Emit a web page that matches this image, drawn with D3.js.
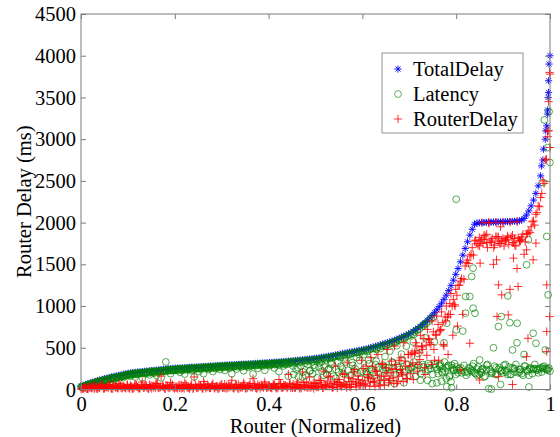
<!DOCTYPE html>
<html>
<head>
<meta charset="utf-8">
<script src="https://cdn.jsdelivr.net/npm/d3@7"></script>
<style>
  body { margin: 0; background: #fff; }
  text { font-family: "Liberation Serif", "Times New Roman", serif; fill: #000; }
</style>
</head>
<body>
<div id="container"></div>
<script>
/* CONSTANTS AND GLOBALS */
const width = 560,
  height = 437,
  plot = { left: 81, right: 550, top: 14, bottom: 389.5 },
  fontSize = "20.5px";

// series, one value per router (sorted by total delay), x = i / 199
const totalDelay = [
  40, 50, 60, 70, 79, 88, 97, 106, 114, 122, 130, 137, 144, 151, 158, 164, 170, 176, 182, 188,
  195, 198, 202, 205, 209, 212, 215, 218, 221, 224, 227, 230, 233, 236, 239, 242, 245, 248, 250, 253,
  255, 257, 258, 260, 262, 263, 265, 267, 268, 270, 272, 274, 275, 277, 279, 281, 282, 284, 286, 288,
  290, 292, 293, 295, 296, 298, 299, 301, 302, 304, 305, 307, 308, 310, 312, 314, 315, 317, 319, 320,
  322, 324, 326, 328, 330, 333, 335, 337, 340, 342, 345, 348, 350, 353, 356, 359, 362, 365, 368, 371,
  375, 379, 384, 388, 393, 398, 403, 408, 413, 419, 425, 430, 436, 441, 447, 452, 458, 463, 469, 474,
  480, 487, 494, 502, 510, 518, 526, 535, 544, 552, 560, 570, 580, 591, 602, 614, 626, 639, 652, 666,
  680, 698, 717, 737, 758, 780, 804, 830, 858, 888, 920, 955, 993, 1034, 1080, 1130, 1185, 1245, 1310, 1380,
  1450, 1530, 1610, 1690, 1770, 1850, 1920, 1980, 1995, 1998, 2000, 2001, 2003, 2004, 2005, 2006, 2007, 2008, 2009, 2010,
  2011, 2012, 2013, 2014, 2016, 2018, 2022, 2030, 2050, 2090, 2140, 2200, 2270, 2350, 2440, 2560, 2750, 3000, 3350, 4000
];

const latency = [
  35, 38, 40, 62, 49, 73, 57, 96, 89, 67, 112, 102, 84, 139, 113, 136, 100, 156, 144, 173,
  180, 160, 195, 150, 185, 200, 140, 190, 205, 175, 218, 195, 170, 215, 140, 220, 330, 235, 190, 230,
  230, 245, 205, 240, 185, 240, 255, 225, 150, 255, 215, 250, 190, 262, 240, 260, 215, 250, 275, 240,
  270, 230, 280, 255, 190, 275, 245, 290, 270, 225, 290, 265, 282, 185, 292, 255, 302, 280, 230, 298,
  285, 310, 258, 300, 215, 315, 282, 302, 160, 325, 282, 325, 262, 325, 150, 315, 342, 220, 332, 292,
  345, 270, 330, 170, 355, 240, 330, 385, 135, 330, 382, 245, 378, 125, 414, 322, 220, 385, 420, 130,
  420, 210, 355, 125, 420, 300, 110, 490, 245, 395, 85, 460, 330, 70, 525, 265, 425, 80, 520, 245,
  260, 570, 160, 430, 110, 300, 620, 110, 290, 70, 570, 80, 290, 100, 560, 130, 290, 95, 230, 180,
  200, 230, 700, 210, 220, 250, 220, 200, 245, 180, 200, 150, 240, 10, 215, 500, 180, 240, 60, 200,
  230, 180, 800, 260, 210, 560, 240, 190, 420, 230, 240, 250, 250, 250, 240, 260, 250, 250, 250, 220
];

const routerDelay = [
  5, 12, 20, 8, 30, 15, 40, 10, 25, 55, 18, 35, 60, 12, 45, 28, 70, 20, 38, 15,
  22, 48, 10, 65, 30, 15, 90, 35, 20, 58, 12, 40, 75, 25, 160, 30, 50, 18, 85, 28,
  30, 12, 55, 20, 80, 25, 10, 45, 150, 18, 60, 28, 95, 15, 40, 22, 70, 35, 12, 50,
  20, 65, 15, 40, 110, 25, 55, 12, 35, 80, 18, 45, 28, 130, 22, 60, 15, 38, 90, 25,
  40, 15, 70, 28, 120, 20, 55, 35, 180, 18, 65, 25, 90, 30, 210, 45, 22, 150, 38, 80,
  30, 110, 55, 220, 40, 160, 75, 25, 280, 90, 45, 190, 60, 320, 35, 130, 240, 80, 50, 350,
  60, 280, 140, 380, 90, 220, 420, 45, 300, 160, 480, 110, 250, 520, 75, 350, 200, 560, 130, 420,
  420, 120, 560, 300, 650, 480, 180, 720, 560, 820, 350, 880, 700, 930, 520, 1000, 900, 1150, 1080, 1200,
  1250, 1300, 900, 1480, 1550, 1600, 1700, 1780, 1750, 1820, 1800, 1850, 1760, 2000, 1790, 1500, 1830, 1770, 1950, 1810,
  1790, 1840, 1200, 1760, 1810, 1450, 1780, 1830, 1620, 1860, 1900, 1950, 2020, 2100, 2200, 2300, 2500, 2750, 3100, 3780
];

// routers in between the ones above, x = (i + 0.5) / 199
const latencyBand = [
  30, 45, 52, 60, 72, 80, 90, 98, 105, 112, 120, 126, 132, 140, 146, 152, 158, 165, 170, 176,
  182, 188, 190, 195, 198, 200, 205, 208, 210, 214, 216, 220, 222, 226, 228, 232, 234, 238, 240, 242,
  244, 246, 248, 250, 250, 254, 256, 258, 258, 262, 262, 266, 266, 268, 270, 272, 274, 276, 278, 280,
  280, 282, 284, 286, 286, 288, 290, 292, 294, 294, 296, 298, 300, 300, 302, 304, 306, 308, 310, 310,
  312, 314, 316, 318, 320, 322, 325, 326, 330, 332, 334, 336, 340, 342, 345, 348, 350, 354, 356, 360,
  362, 366, 372, 375, 380, 384, 390, 394, 400, 405, 410, 415, 420, 426, 432, 438, 442, 448, 455, 460,
  466, 472, 480, 488, 495, 502, 510, 520, 528, 536, 545, 555, 565, 576, 588, 600, 612, 624, 638, 652,
  660, 690, 710, 720, 750, 780, 790, 820, 850, 870, 270, 190, 300, 250, 220, 280, 170, 260, 310, 230,
  250, 200, 290, 170, 260, 230, 310, 190, 270, 220, 250, 160, 300, 240, 200, 280, 180, 260, 230, 290,
  210, 270, 180, 250, 300, 200, 240, 170, 280, 220, 260, 190, 300, 230, 250, 210, 280, 240, 260
];
const routerBand = [
  10, 25, 8, 35, 18, 42, 12, 28, 50, 15, 32, 20, 45, 10, 38, 22, 55, 14, 30, 48,
  12, 36, 20, 52, 15, 40, 25, 60, 10, 30, 45, 18, 70, 22, 35, 12, 50, 28, 40, 16,
  25, 48, 14, 38, 60, 20, 32, 10, 55, 26, 42, 15, 65, 30, 18, 50, 24, 36, 12, 45,
  28, 15, 52, 35, 20, 62, 12, 40, 25, 58, 18, 45, 30, 70, 14, 38, 55, 22, 48, 32,
  20, 55, 35, 15, 65, 28, 48, 18, 75, 38, 25, 60, 42, 15, 85, 32, 50, 22, 70, 40,
  30, 80, 18, 55, 100, 40, 25, 90, 60, 120, 35, 75, 50, 140, 28, 95, 65, 160, 45, 110,
  70, 180, 40, 130, 90, 220, 55, 160, 110, 260, 80, 200, 140, 300, 100, 240, 180, 340, 130, 280,
  440, 430, 520, 440, 510, 610, 530, 610, 540, 690, 660, 780, 710, 800, 870, 870, 1030, 1000, 1020, 1130,
  1250, 1330, 1320, 1520, 1510, 1620, 1610, 1790, 1730, 1780, 1750, 1840, 1700, 1770, 1810, 1730, 1830, 1750, 1780, 1720,
  1800, 1740, 1830, 1760, 1720, 1820, 1780, 1860, 1770, 1870, 1880, 2010, 1970, 2120, 2190, 2350, 2470, 2760, 3100
];

// more routers over the lower 80% of the range
// latency at x = (i + 0.25) / 199
const latencyMid = [
  25, 35, 45, 50, 60, 70, 78, 85, 95, 100, 110, 115, 122, 130, 135, 142, 148, 155, 160, 165,
  170, 175, 180, 182, 186, 190, 192, 196, 198, 200, 204, 206, 210, 212, 215, 218, 220, 224, 226, 228,
  230, 228, 236, 232, 240, 236, 244, 240, 246, 250, 246, 252, 250, 256, 254, 260, 258, 262, 260, 266,
  264, 270, 266, 274, 270, 276, 272, 280, 276, 282, 280, 286, 282, 290, 286, 292, 290, 296, 292, 298,
  296, 300, 298, 304, 300, 308, 304, 312, 308, 316,
  180, 240, 150, 280, 210, 170, 300, 230, 190, 260, 140, 320, 220, 270, 180, 250, 300, 160, 240, 210,
  280, 190, 330, 230, 170, 290, 250, 200, 350, 220, 260, 180, 310, 240, 200, 340, 270, 150, 290, 230,
  260, 200, 320, 180, 280, 240, 350, 210, 300, 170, 260, 330, 230, 290, 190, 270, 220, 310, 250, 180,
  300, 240, 280, 200, 330, 260, 150, 290, 230, 270
];
// router delay at x = (i + 0.75) / 199
const routerMid = [
  15, 30, 8, 22, 45, 12, 35, 20, 50, 10, 28, 40, 15, 55, 25, 12, 42, 30, 18, 60,
  25, 10, 45, 32, 15, 55, 20, 38, 12, 48, 28, 65, 18, 35, 50, 10, 40, 24, 58, 14,
  36, 20, 52, 12, 44, 28, 62, 16, 38, 24, 50, 10, 34, 58, 22, 46, 14, 40, 30, 66,
  18, 42, 26, 55, 12, 36, 60, 22, 48, 14, 38, 70, 26, 50, 16, 44, 32, 64, 20, 52,
  28, 56, 16, 40, 72, 24, 48, 34, 62, 20,
  20, 45, 15, 60, 30, 90, 25, 50, 12, 70, 35, 110, 20, 55, 40, 150, 28, 65, 18, 85,
  40, 180, 22, 95, 60, 210, 30, 120, 75, 250, 45, 150, 90, 280, 35, 170, 110, 310, 55, 200,
  130, 340, 70, 240, 160, 380, 95, 280, 420, 190, 320, 460, 220, 360, 520, 260, 410, 600, 300, 480,
  650, 350, 720, 540, 820, 420, 900, 650, 1000, 760
];

// extra markers that sit off the main sequence (x normalized, value ms)
const totalExtraX = [0.982, 0.986, 0.991, 0.993, 0.995, 0.996, 0.997, 0.997, 0.998];
const totalExtraY = [2680, 2880, 3100, 3160, 3300, 3500, 3560, 3700, 3900];

const latencyExtraX = [
  0.80, 0.954, 0.993, 0.95, 0.836, 0.833, 0.829, 0.836, 0.91, 0.996, 0.896, 0.84, 0.89, 0.93, 0.964, 0.97,
  0.99, 0.85, 0.92, 0.82, 0.82, 0.80, 0.78, 0.78, 0.79, 0.875, 0.955,
  0.81, 0.825, 0.835, 0.845, 0.855, 0.865, 0.875, 0.885, 0.895, 0.905, 0.915, 0.925, 0.935, 0.945,
  0.955, 0.965, 0.975, 0.985, 0.995, 0.62, 0.65, 0.68, 0.71, 0.74, 0.77,
  0.51, 0.53, 0.55, 0.57, 0.59, 0.61, 0.63, 0.65, 0.67, 0.69, 0.71, 0.73,
  0.998, 0.988, 0.995, 1.0, 0.985
];
const latencyExtraY = [
  2280, 1794, 1834, 1494, 1454, 1354, 1114, 974, 1122, 1134, 874, 914, 754, 794, 674, 554,
  474, 354, 474, 914, 1114, 714, 794, 34, 20, 5, 30,
  260, 200, 280, 170, 240, 290, 190, 260, 220, 300, 180, 250, 210, 280,
  170, 240, 200, 270, 230, 220, 260, 200, 280, 240, 210,
  355, 375, 400, 420, 445, 455, 480, 520, 560, 610, 660, 760,
  3330, 3230, 2900, 2720, 2480
];

const routerExtraX = [
  0.855, 0.87, 0.885, 0.90, 0.915, 0.93, 0.86, 0.875, 0.89, 0.905, 0.92, 0.935, 0.85, 0.865, 0.88, 0.895,
  0.91, 0.925, 0.94, 0.851, 0.886, 0.922, 0.964, 0.89, 0.932, 0.897, 0.911, 0.887, 0.993, 0.999, 0.95,
  0.97, 0.993, 0.953, 0.993, 0.81, 0.85, 0.95, 0.829, 0.89, 0.92,
  0.997, 0.999, 0.995, 1.0
];
const routerExtraY = [
  2000, 1995, 2005, 2000, 2005, 2010, 1800, 1760, 1830, 1780, 1850, 1790, 1720, 1860, 1700, 1750,
  1820, 1730, 1800, 1514, 1554, 1574, 1554, 1254, 1234, 1134, 894, 874, 1254, 874, 1674,
  1754, 694, 614, 454, 234, 114, 394, 554, 154, 60,
  3450, 3800, 3030, 2900
];

const xTicks = [0, 0.2, 0.4, 0.6, 0.8, 1];
const yTicks = [0, 500, 1000, 1500, 2000, 2500, 3000, 3500, 4000, 4500];
const seriesNames = ["TotalDelay", "Latency", "RouterDelay"];
const seriesColors = ["#0000ff", "#008000", "#ff0000"];

let svg, xScale, yScale;

// marker shapes (matlab '*', 'o', '+')
const starPath = "M-3.6,0H3.6M0,-3.6V3.6M-2.5,-2.5L2.5,2.5M-2.5,2.5L2.5,-2.5";
const plusPath = "M-4.2,0H4.2M0,-4.2V4.2";

function toPoints(values, band, mid, midOffset, exX, exY) {
  const n = values.length - 1;
  const pts = values.map((v, i) => ({ x: i / n, y: v }));
  band.forEach((v, i) => pts.push({ x: (i + 0.5) / n, y: v }));
  mid.forEach((v, i) => pts.push({ x: (i + midOffset) / n, y: v }));
  exX.forEach((x, i) => pts.push({ x: x, y: exY[i] }));
  return pts;
}

function init() {
  xScale = d3.scaleLinear().domain([0, 1]).range([plot.left, plot.right]);
  yScale = d3.scaleLinear().domain([0, 4500]).range([plot.bottom, plot.top]);

  svg = d3.select("#container")
    .append("svg")
    .attr("width", width)
    .attr("height", height);

  const totalPts = toPoints(totalDelay, [], [], 0, totalExtraX, totalExtraY);
  const latPts = toPoints(latency, latencyBand, latencyMid, 0.25, latencyExtraX, latencyExtraY);
  const routerPts = toPoints(routerDelay, routerBand, routerMid, 0.75, routerExtraX, routerExtraY);

  // TotalDelay first, then Latency, RouterDelay on top
  svg.append("g").selectAll("path")
    .data(totalPts)
    .join("path")
    .attr("d", starPath)
    .attr("transform", d => `translate(${xScale(d.x)},${yScale(d.y)})`)
    .attr("fill", "none")
    .attr("stroke", seriesColors[0])
    .attr("stroke-width", 0.9);

  svg.append("g").selectAll("circle")
    .data(latPts)
    .join("circle")
    .attr("cx", d => xScale(d.x))
    .attr("cy", d => yScale(d.y))
    .attr("r", 3.4)
    .attr("fill", "none")
    .attr("stroke", seriesColors[1])
    .attr("stroke-opacity", 0.85)
    .attr("stroke-width", 0.8);

  svg.append("g").selectAll("path")
    .data(routerPts)
    .join("path")
    .attr("d", plusPath)
    .attr("transform", d => `translate(${xScale(d.x)},${yScale(d.y)})`)
    .attr("fill", "none")
    .attr("stroke", seriesColors[2])
    .attr("stroke-opacity", 0.9)
    .attr("stroke-width", 0.9);

  // + AXES (matlab box with inward ticks on all sides)
  const frameColor = "#7a7a7a";
  svg.append("rect")
    .attr("x", plot.left).attr("y", plot.top)
    .attr("width", plot.right - plot.left)
    .attr("height", plot.bottom - plot.top)
    .attr("fill", "none")
    .attr("stroke", frameColor)
    .attr("stroke-width", 1);

  const xAxis = d3.axisBottom(xScale).tickValues(xTicks).tickSize(-5).tickPadding(7).tickFormat(d3.format("~g"));
  const yAxis = d3.axisLeft(yScale).tickValues(yTicks).tickSize(-5).tickPadding(5).tickFormat(d3.format("d"));

  const xAxisGroup = svg.append("g")
    .attr("transform", `translate(0,${plot.bottom})`)
    .call(xAxis);
  const yAxisGroup = svg.append("g")
    .attr("transform", `translate(${plot.left},0)`)
    .call(yAxis);
  svg.append("g")
    .attr("transform", `translate(0,${plot.top})`)
    .call(d3.axisTop(xScale).tickValues(xTicks).tickSize(-5).tickFormat(""));
  svg.append("g")
    .attr("transform", `translate(${plot.right},0)`)
    .call(d3.axisRight(yScale).tickValues(yTicks).tickSize(-5).tickFormat(""));

  svg.selectAll(".domain").remove();
  svg.selectAll(".tick line").attr("stroke", frameColor);
  [xAxisGroup, yAxisGroup].forEach(g => g.selectAll("text")
    .style("font-family", '"Liberation Serif", serif')
    .style("font-size", fontSize)
    .attr("fill", "#000"));
  xAxisGroup.selectAll("text").attr("dy", "0.71em");

  // + AXIS LABELS
  svg.append("text")
    .attr("x", (plot.left + plot.right) / 2)
    .attr("y", 433)
    .attr("text-anchor", "middle")
    .style("font-size", fontSize)
    .text("Router (Normalized)");

  svg.append("text")
    .attr("transform", `translate(31,${(plot.top + plot.bottom) / 2}) rotate(-90)`)
    .attr("text-anchor", "middle")
    .style("font-size", fontSize)
    .text("Router Delay (ms)");

  // + LEGEND
  const legend = svg.append("g").attr("transform", "translate(382,53)");
  legend.append("rect")
    .attr("width", 141).attr("height", 80)
    .attr("fill", "#fff")
    .attr("stroke", "#777")
    .attr("stroke-width", 0.8);

  seriesNames.forEach((name, i) => {
    const cy = 16 + i * 25;
    if (i === 0) {
      legend.append("path").attr("d", starPath)
        .attr("transform", `translate(16,${cy})`)
        .attr("fill", "none").attr("stroke", seriesColors[0]).attr("stroke-width", 0.9);
    } else if (i === 1) {
      legend.append("circle").attr("cx", 16).attr("cy", cy).attr("r", 3.4)
        .attr("fill", "none").attr("stroke", seriesColors[1]).attr("stroke-opacity", 0.75).attr("stroke-width", 0.8);
    } else {
      legend.append("path").attr("d", plusPath)
        .attr("transform", `translate(16,${cy})`)
        .attr("fill", "none").attr("stroke", seriesColors[2]).attr("stroke-opacity", 0.85).attr("stroke-width", 0.9);
    }
    legend.append("text")
      .attr("x", 31)
      .attr("y", cy + 7)
      .style("font-size", fontSize)
      .text(name);
  });
}

init();
</script>
</body>
</html>
